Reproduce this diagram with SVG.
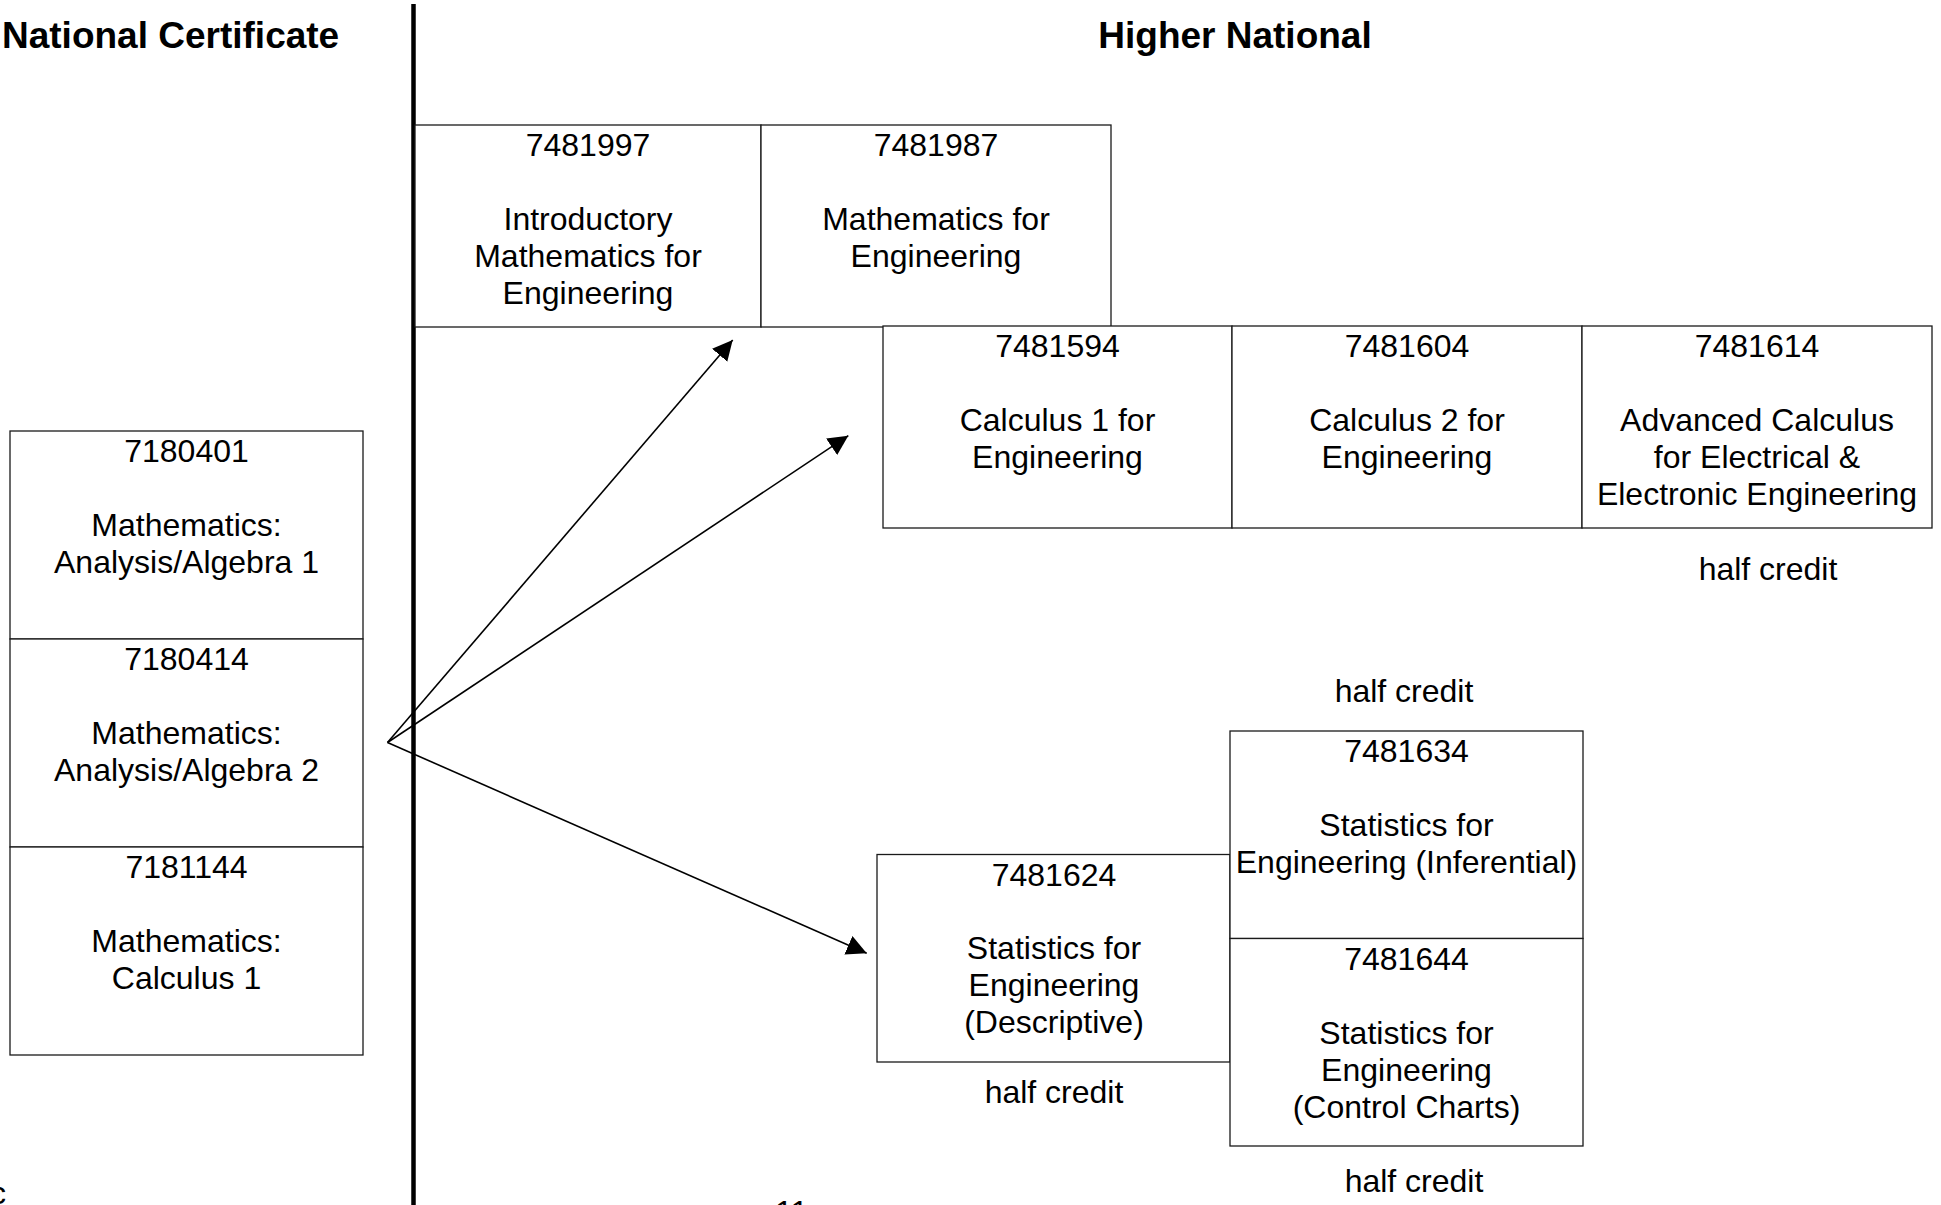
<svg xmlns="http://www.w3.org/2000/svg" width="1941" height="1205" viewBox="0 0 1941 1205">
<style>
text{font-family:"Liberation Sans",Arial,sans-serif;font-size:32px;fill:#000;text-anchor:middle}
.title{font-weight:bold;font-size:37px}
.box{fill:#fff;stroke:#1a1a1a;stroke-width:1.3}
.conn{stroke:#000;stroke-width:1.6;fill:none}
</style>
<defs>
<marker id="ah" markerUnits="userSpaceOnUse" markerWidth="21" markerHeight="21" refX="20" refY="10" orient="auto" viewBox="0 0 21 21">
<path d="M0,0 L20,10 L0,20 z" fill="#000"/>
</marker>
</defs>
<rect width="1941" height="1205" fill="#fff"/>
<text class="title" x="2" y="48" style="text-anchor:start">National Certificate</text>
<text class="title" x="1235" y="48">Higher National</text>
<line x1="413.5" y1="4" x2="413.5" y2="1205" stroke="#000" stroke-width="4.5"/>

<g id="n7180401"><rect class="box" x="10" y="431" width="353" height="208"/>
<text x="186.5" y="462">7180401</text><text x="186.5" y="536">Mathematics:</text><text x="186.5" y="573">Analysis/Algebra 1</text></g>
<g id="n7180414"><rect class="box" x="10" y="639" width="353" height="208"/>
<text x="186.5" y="670">7180414</text><text x="186.5" y="744">Mathematics:</text><text x="186.5" y="781">Analysis/Algebra 2</text></g>
<g id="n7181144"><rect class="box" x="10" y="847" width="353" height="208"/>
<text x="186.5" y="878">7181144</text><text x="186.5" y="952">Mathematics:</text><text x="186.5" y="989">Calculus 1</text></g>

<g id="n7481997"><rect class="box" x="415" y="125" width="346" height="202"/>
<text x="588" y="156">7481997</text><text x="588" y="230">Introductory</text><text x="588" y="267">Mathematics for</text><text x="588" y="304">Engineering</text></g>
<g id="n7481987"><rect class="box" x="761" y="125" width="350" height="202"/>
<text x="936" y="156">7481987</text><text x="936" y="230">Mathematics for</text><text x="936" y="267">Engineering</text></g>

<g id="n7481594"><rect class="box" x="883" y="326" width="349" height="202"/>
<text x="1057.5" y="357">7481594</text><text x="1057.5" y="431">Calculus 1 for</text><text x="1057.5" y="468">Engineering</text></g>
<g id="n7481604"><rect class="box" x="1232" y="326" width="350" height="202"/>
<text x="1407" y="357">7481604</text><text x="1407" y="431">Calculus 2 for</text><text x="1407" y="468">Engineering</text></g>
<g id="n7481614"><rect class="box" x="1582" y="326" width="350" height="202"/>
<text x="1757" y="357">7481614</text><text x="1757" y="431">Advanced Calculus</text><text x="1757" y="468">for Electrical &amp;</text><text x="1757" y="505">Electronic Engineering</text>
<text x="1768" y="580">half credit</text></g>

<g id="n7481624"><rect class="box" x="877" y="854.5" width="353" height="207.5"/>
<text x="1054" y="885.5">7481624</text><text x="1054" y="959">Statistics for</text><text x="1054" y="996">Engineering</text><text x="1054" y="1033">(Descriptive)</text>
<text x="1054" y="1103">half credit</text></g>
<g id="n7481634"><rect class="box" x="1230" y="731" width="353" height="207.5"/>
<text x="1406.5" y="762">7481634</text><text x="1406.5" y="836">Statistics for</text><text x="1406.5" y="873">Engineering (Inferential)</text>
<text x="1404" y="702">half credit</text></g>
<g id="n7481644"><rect class="box" x="1230" y="938.5" width="353" height="207.5"/>
<text x="1406.5" y="969.5">7481644</text><text x="1406.5" y="1043.5">Statistics for</text><text x="1406.5" y="1080.5">Engineering</text><text x="1406.5" y="1117.5">(Control Charts)</text>
<text x="1414" y="1192">half credit</text></g>

<g id="connectors">
<line class="conn" x1="387.5" y1="742.5" x2="732.7" y2="340" marker-end="url(#ah)"/>
<line class="conn" x1="387.5" y1="742.5" x2="848.3" y2="435.7" marker-end="url(#ah)"/>
<line class="conn" x1="387.5" y1="742.5" x2="866.7" y2="953.3" marker-end="url(#ah)"/>
</g>

<text x="-10" y="1204" style="text-anchor:start">c</text>
<text x="775" y="1223" style="text-anchor:start">11</text>
</svg>
